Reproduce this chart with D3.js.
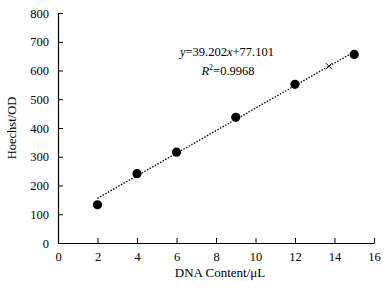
<!DOCTYPE html>
<html lang="en">
<head>
    <style>
        body { margin: 0; background: #fff; }
        svg { display: block; }
        text { font-family: "Liberation Serif", "Times New Roman", serif; fill: #000; }
    </style>
</head>
<body>
    <svg width="388" height="292"></svg>
    <script src="https://cdn.jsdelivr.net/npm/d3@7"></script>
    <script>
        // Data
        const dnaContent = [2, 4, 6, 9, 12, 15];
        const hoechstOD = [133, 241, 316, 437, 552, 656];
        const crossPoint = [13.72, 615];
        const slope = 39.202, intercept = 77.101;
        const xTicks = [0, 2, 4, 6, 8, 10, 12, 14, 16];
        const yTicks = [0, 100, 200, 300, 400, 500, 600, 700, 800];

        const svg = d3.select("svg");
        const plotLeft = 58, plotRight = 374, plotTop = 13, plotBottom = 243;

        const x = d3.scaleLinear().domain([0, 16]).range([plotLeft, plotRight]);
        const y = d3.scaleLinear().domain([0, 800]).range([plotBottom, plotTop]);

        /* Axes (ticks point inward) */
        const xAxis = svg.append("g")
            .attr("transform", `translate(0, ${plotBottom})`)
            .call(d3.axisBottom(x).tickValues(xTicks).tickSizeInner(-5).tickSizeOuter(0).tickPadding(9));
        const yAxis = svg.append("g")
            .attr("transform", `translate(${plotLeft}, 0)`)
            .call(d3.axisLeft(y).tickValues(yTicks).tickSizeInner(-5).tickSizeOuter(0).tickPadding(9));

        [xAxis, yAxis].forEach(a => {
            a.attr("font-family", null).attr("font-size", null);
            a.select(".domain").attr("stroke", "#000").attr("stroke-width", 1.2);
            a.selectAll(".tick line").attr("stroke", "#000");
            a.selectAll(".tick text").style("font-size", "12.5px");
        });

        // Axis titles
        svg.append("text")
            .attr("x", (plotLeft + plotRight) / 2 + 4).attr("y", 277)
            .attr("text-anchor", "middle").style("font-size", "13px")
            .text("DNA Content/μL");
        svg.append("text")
            .attr("transform", `translate(16, ${(plotTop + plotBottom) / 2}) rotate(-90)`)
            .attr("text-anchor", "middle").style("font-size", "12.5px")
            .text("Hoechst/OD");

        /* Trend line */
        const xs = d3.extent(dnaContent);
        svg.append("line")
            .attr("x1", x(xs[0])).attr("y1", y(slope * xs[0] + intercept))
            .attr("x2", x(xs[1])).attr("y2", y(slope * xs[1] + intercept))
            .attr("stroke", "#000").attr("stroke-width", 1.4)
            .attr("stroke-dasharray", "1.4,1.6");

        /* Points */
        svg.selectAll("circle.pt").data(dnaContent).enter()
            .append("circle").attr("class", "pt")
            .attr("cx", d => x(d))
            .attr("cy", (d, i) => y(hoechstOD[i]))
            .attr("r", 4.6)
            .attr("fill", "#000");

        // Cross marker
        const cx = x(crossPoint[0]), cy = y(crossPoint[1]);
        svg.append("path")
            .attr("d", `M${cx - 3},${cy - 3}L${cx + 3},${cy + 3}M${cx - 3},${cy + 3}L${cx + 3},${cy - 3}`)
            .attr("stroke", "#000").attr("stroke-width", 1);

        /* Equation */
        const eq = svg.append("text").attr("x", 227).attr("y", 56)
            .attr("text-anchor", "middle").style("font-size", "12.5px");
        eq.append("tspan").style("font-style", "italic").text("y");
        eq.append("tspan").text("=39.202");
        eq.append("tspan").style("font-style", "italic").text("x");
        eq.append("tspan").text("+77.101");

        const r2 = svg.append("text").attr("x", 228).attr("y", 75)
            .attr("text-anchor", "middle").style("font-size", "12.5px");
        r2.append("tspan").style("font-style", "italic").text("R");
        r2.append("tspan").attr("dy", -5).style("font-size", "8px").text("2");
        r2.append("tspan").attr("dy", 5).text("=0.9968");
    </script>
</body>
</html>
